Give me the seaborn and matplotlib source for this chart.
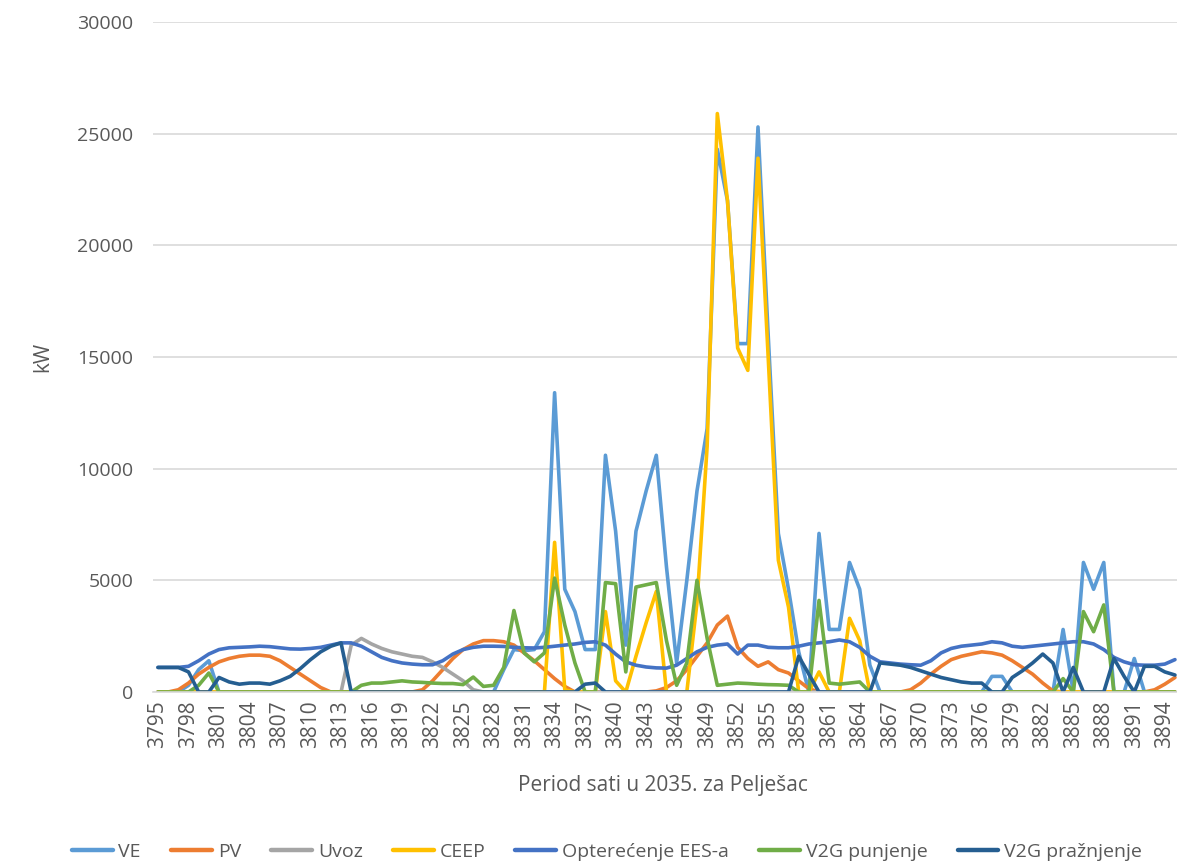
import numpy as np
import pandas as pd
import seaborn as sns
import matplotlib
matplotlib.use('Agg')
import matplotlib.pyplot as plt

# sati 3795 .. 3895
sati = list(range(3795, 3896))

ve = [0, 0, 0, 300, 1000, 1400, 0, 0, 0, 0,
      0, 0, 0, 0, 0, 0, 0, 0, 0, 0,
      0, 0, 0, 0, 0, 0, 0, 0, 0, 0,
      0, 0, 0, 0, 1000, 1900, 1850, 1900, 2700, 13400,
      4600, 3600, 1900, 1900, 10600, 7200, 2100, 7200, 9000, 10600,
      5600, 1300, 5000, 9000, 11800, 24300, 22000, 15600, 15600, 25300,
      16000, 7100, 4600, 1800, 0, 7100, 2800, 2800, 5800, 4600,
      1200, 0, 0, 0, 0, 0, 0, 0, 0, 0,
      0, 0, 700, 700, 0, 0, 0, 0, 0, 2800,
      0, 5800, 4600, 5800, 0, 0, 1500, 0, 0, 0,
      0]

pv = [0, 0, 100, 400, 800, 1100, 1350, 1500, 1600, 1650,
      1650, 1600, 1400, 1100, 800, 500, 200, 0, 0, 0,
      0, 0, 0, 0, 0, 0, 100, 500, 1000, 1500,
      1900, 2150, 2300, 2300, 2250, 2100, 1750, 1400, 1000, 600,
      250, 0, 0, 0, 0, 0, 0, 0, 0, 50,
      200, 500, 1000, 1600, 2200, 3000, 3400, 2000, 1500, 1150,
      1350, 1000, 850, 500, 150, 0, 0, 0, 0, 0,
      0, 0, 0, 0, 100, 400, 800, 1150, 1450, 1600,
      1700, 1800, 1750, 1650, 1400, 1100, 800, 400, 50, 0,
      0, 0, 0, 0, 0, 0, 0, 0, 100, 350,
      650]

uvoz = [0, 0, 0, 0, 0, 0, 0, 0, 0, 0,
        0, 0, 0, 0, 0, 0, 0, 0, 0, 2100,
        2400, 2150, 1950, 1800, 1700, 1600, 1550, 1350, 1100, 800,
        500, 100, 0, 0, 0, 0, 0, 0, 0, 0,
        0, 0, 0, 0, 0, 0, 0, 0, 0, 0,
        0, 0, 0, 0, 0, 0, 0, 0, 0, 0,
        0, 0, 0, 0, 0, 0, 0, 0, 0, 0,
        0, 0, 0, 0, 0, 0, 0, 0, 0, 0,
        0, 0, 0, 0, 0, 0, 0, 0, 0, 0,
        0, 0, 0, 0, 0, 0, 0, 0, 0, 0,
        0]

ceep = [0, 0, 0, 0, 0, 0, 0, 0, 0, 0,
        0, 0, 0, 0, 0, 0, 0, 0, 0, 0,
        0, 0, 0, 0, 0, 0, 0, 0, 0, 0,
        0, 0, 0, 0, 0, 0, 0, 0, 0, 6700,
        100, 0, 0, 0, 3600, 500, 0, 1600, 3100, 4500,
        0, 0, 0, 4000, 11000, 25900, 22000, 15400, 14400, 23900,
        15000, 5900, 3800, 0, 0, 900, 0, 0, 3300, 2300,
        0, 0, 0, 0, 0, 0, 0, 0, 0, 0,
        0, 0, 0, 0, 0, 0, 0, 0, 0, 0,
        0, 0, 0, 0, 0, 0, 0, 0, 0, 0,
        0]

opterecenje = [1100, 1100, 1100, 1150, 1400, 1700, 1900, 1980, 2000, 2020,
               2050, 2030, 1980, 1930, 1920, 1950, 2000, 2100, 2200, 2200,
               2050, 1800, 1550, 1400, 1300, 1250, 1220, 1220, 1400, 1700,
               1900, 2000, 2050, 2050, 2040, 2000, 1980, 1970, 2000, 2050,
               2100, 2150, 2220, 2250, 2100, 1700, 1350, 1200, 1120, 1080,
               1070, 1200, 1500, 1800, 2000, 2100, 2150, 1700, 2100, 2100,
               2000, 1980, 1980, 2050, 2150, 2200, 2250, 2330, 2250, 2000,
               1600, 1350, 1300, 1250, 1220, 1200, 1400, 1750, 1950, 2050,
               2100, 2150, 2250, 2200, 2050, 2000, 2050, 2100, 2150, 2200,
               2250, 2250, 2150, 1900, 1550, 1350, 1220, 1200, 1200, 1250,
               1450]

v2g_punjenje = [0, 0, 0, 0, 300, 850, 0, 0, 0, 0,
                0, 0, 0, 0, 0, 0, 0, 0, 0, 0,
                300, 400, 400, 450, 500, 450, 430, 400, 380, 380,
                330, 670, 250, 300, 1100, 3650, 1750, 1350, 1750, 5100,
                3000, 1300, 0, 0, 4900, 4850, 900, 4700, 4800, 4900,
                2300, 300, 1300, 5000, 2400, 300, 350, 400, 380, 350,
                330, 320, 300, 0, 0, 4100, 400, 350, 400, 450,
                0, 0, 0, 0, 0, 0, 0, 0, 0, 0,
                0, 0, 0, 0, 0, 0, 0, 0, 0, 600,
                0, 3600, 2700, 3900, 0, 0, 0, 0, 0, 0,
                0]

v2g_praznjenje = [1100, 1100, 1100, 900, 0, 0, 650, 450, 350, 400,
                  400, 350, 500, 700, 1050, 1450, 1800, 2050, 2200, 0,
                  0, 0, 0, 0, 0, 0, 0, 0, 0, 0,
                  0, 0, 0, 0, 0, 0, 0, 0, 0, 0,
                  0, 0, 350, 400, 0, 0, 0, 0, 0, 0,
                  0, 0, 0, 0, 0, 0, 0, 0, 0, 0,
                  0, 0, 0, 1600, 800, 0, 0, 0, 0, 0,
                  0, 1300, 1250, 1200, 1100, 950, 800, 650, 550, 450,
                  400, 400, 0, 0, 650, 950, 1300, 1700, 1300, 0,
                  1100, 0, 0, 0, 1500, 700, 0, 1150, 1150, 900,
                  760]

serije = {
    'VE': ve,
    'PV': pv,
    'Uvoz': uvoz,
    'CEEP': ceep,
    'Opterećenje EES-a': opterecenje,
    'V2G punjenje': v2g_punjenje,
    'V2G pražnjenje': v2g_praznjenje,
}
boje = {
    'VE': '#5B9BD5',
    'PV': '#ED7D31',
    'Uvoz': '#A5A5A5',
    'CEEP': '#FFC000',
    'Opterećenje EES-a': '#4472C4',
    'V2G punjenje': '#70AD47',
    'V2G pražnjenje': '#255E91',
}

df = pd.DataFrame({'sat': sati, **serije})
df = df.melt(id_vars='sat', var_name='serija', value_name='kW')

sns.set_style("white")
plt.rcParams['font.family'] = ['Open Sans', 'DejaVu Sans']
plt.rcParams['lines.solid_joinstyle'] = 'round'
plt.rcParams['lines.solid_capstyle'] = 'round'

fig = plt.figure(figsize=(11.77, 8.66), dpi=100)
ax = fig.add_axes([153/1177, (866-692)/866, (1177-153)/1177, (692-22)/866])

sns.lineplot(data=df, x='sat', y='kW', hue='serija', hue_order=list(serije.keys()),
             palette=boje, linewidth=2.6, estimator=None, ax=ax)

ax.set_xlim(3795 - 0.49, 3895.2)
ax.set_ylim(0, 30000)
ax.set_yticks(range(0, 30001, 5000))
ax.set_xticks(range(3795, 3895, 3))
ax.set_xticklabels([str(s) for s in range(3795, 3895, 3)], rotation=90)
ax.yaxis.grid(True, color='#D9D9D9', linewidth=1.2)
ax.set_axisbelow(True)
for s in ['top', 'right', 'left']:
    ax.spines[s].set_visible(False)
ax.spines['bottom'].set_color('#D9D9D9')
ax.spines['bottom'].set_linewidth(1.2)
ax.tick_params(axis='y', length=0, pad=14, labelsize=14, labelcolor='#595959')
ax.tick_params(axis='x', length=0, pad=6, labelsize=15, labelcolor='#595959')

ax.set_xlabel('Period sati u 2035. za Pelješac', fontsize=15, color='#595959')
ax.xaxis.set_label_coords(0.498, -0.124)
ax.set_ylabel('kW', fontsize=15, color='#595959')
ax.yaxis.set_label_coords(-0.097, 0.5)

ax.legend_.remove()
handles, labels = ax.get_legend_handles_labels()
fig.legend(handles, labels, loc='center', bbox_to_anchor=(607/1177, 1 - 852/866),
           ncol=7, frameon=False, fontsize=14, handlelength=2.1, handletextpad=0.3,
           columnspacing=1.55, labelcolor='#595959')
for ln in fig.legends[0].get_lines():
    ln.set_linewidth(3.2)

fig.savefig('out.png', dpi=100)
